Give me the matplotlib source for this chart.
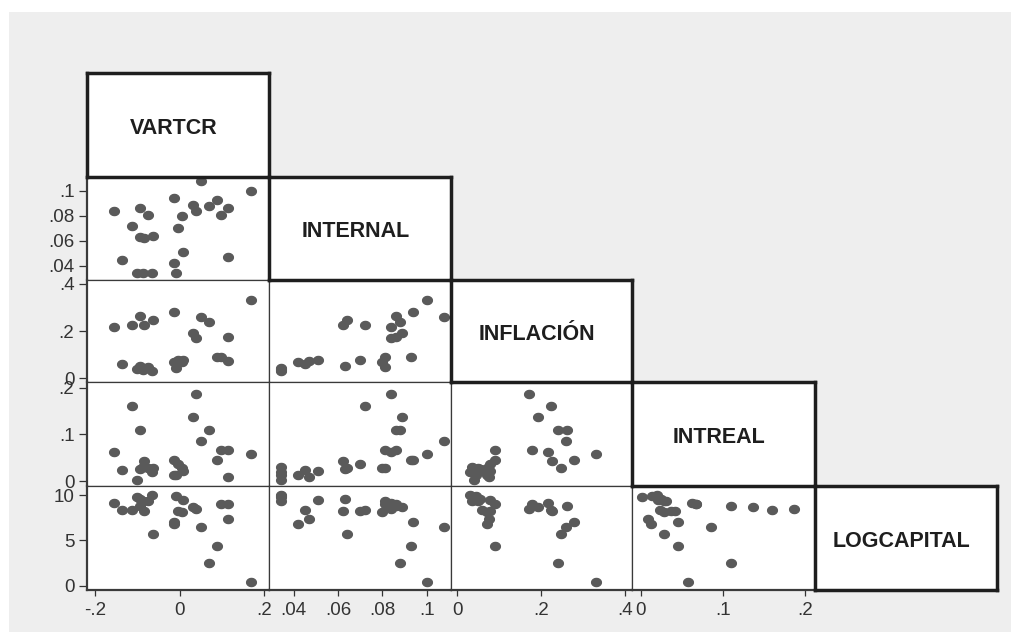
import numpy as np
import matplotlib.pyplot as plt
from matplotlib.path import Path
from matplotlib.patches import Rectangle

plt.rcParams['font.family'] = ['Liberation Sans', 'DejaVu Sans']

W, H = 1012, 638

names = ["VARTCR", "INTERNAL", "INFLACIÓN", "INTREAL", "LOGCAPITAL"]

vartcr = [-.156, -.137, -.114, -.095, -.076, -.086, -.095, -.064, -.102, -.088,
          -.066, -.009, -.014, .005, -.005, .007, -.014, .031, .038, .050,
          .069, .088, .097, .114, .114, .168]
internal = [.084, .045, .072, .086, .081, .062, .063, .064, .034, .034,
            .034, .034, .094, .080, .070, .051, .042, .089, .084, .108,
            .088, .093, .081, .086, .047, .100]
inflacion = [.217, .060, .224, .262, .050, .226, .054, .248, .040, .035,
             .030, .045, .279, .070, .078, .078, .070, .193, .170, .258,
             .240, .090, .090, .177, .075, .330]
intreal = [.063, .023, .160, .110, .028, .042, .025, .028, .002, .031,
           .020, .014, .045, .028, .037, .021, .012, .137, .187, .085,
           .110, .046, .067, .067, .009, .057]
logcapital = [9.1, 8.35, 8.4, 8.8, 9.3, 8.2, 9.6, 5.7, 9.8, 9.3,
              10.0, 9.9, 7.0, 8.1, 8.2, 9.5, 6.8, 8.7, 8.5, 6.5,
              2.5, 4.4, 9.0, 9.0, 7.4, 0.4]

data = [vartcr, internal, inflacion, intreal, logcapital]

tick_vals = [[-.2, 0, .2], [.04, .06, .08, .1], [0, .2, .4], [0, .1, .2], [0, 5, 10]]
tick_text = [["-.2", "0", ".2"], [".04", ".06", ".08", ".1"], ["0", ".2", ".4"],
             ["0", ".1", ".2"], ["0", "5", "10"]]
limits = [(-.220, .211), (.0288, .111), (-.015, .416), (-.0105, .212), (-.47, 11.0)]

col_edges = [87, 269, 451, 632, 815, 997]
row_edges = [73, 177, 280, 382, 486, 590]

dot_color = "#5a5a5a"
line_color = "#3a3a3a"


def box(x0, y0, x1, y1):
    return [x0 / W, 1 - y1 / H, (x1 - x0) / W, (y1 - y0) / H]


# squashed circle like the stata markers
t = np.linspace(0, 2 * np.pi, 40)
ellipse = Path(np.column_stack([1.2 * np.cos(t), np.sin(t)]), closed=True)

fig = plt.figure(figsize=(W / 100, H / 100), dpi=100)
fig.patch.set_facecolor("white")
fig.add_artist(Rectangle((9 / W, 1 - 632 / H), 1003 / W, 620 / H,
                         transform=fig.transFigure, facecolor="#eeeeee",
                         edgecolor="none", zorder=0))

for i in range(1, 5):
    for j in range(i):
        ax = fig.add_axes(box(col_edges[j], row_edges[i], col_edges[j + 1], row_edges[i + 1]))
        ax.set_facecolor("white")
        ax.plot(data[j], data[i], ls="none", marker=ellipse, ms=7,
                color=dot_color, mec=dot_color)
        ax.set_xlim(limits[j])
        ax.set_ylim(limits[i])
        for s in ax.spines.values():
            s.set_linewidth(0.9)
            s.set_color(line_color)
        if j == 0:
            ax.set_yticks(tick_vals[i])
            ax.set_yticklabels(tick_text[i])
            ax.spines["left"].set_linewidth(1.6)
        else:
            ax.set_yticks([])
        if i == 4:
            ax.set_xticks(tick_vals[j])
            ax.set_xticklabels(tick_text[j])
            ax.spines["bottom"].set_linewidth(1.6)
        else:
            ax.set_xticks([])
        ax.tick_params(axis="y", length=6, width=0.9, pad=3, labelsize=13.5,
                       colors="#333333")
        ax.tick_params(axis="x", length=4.5, width=0.9, pad=4, labelsize=13.5,
                       colors="#333333")

# diagonal boxes with the variable names
for k in range(5):
    ax = fig.add_axes(box(col_edges[k], row_edges[k], col_edges[k + 1], row_edges[k + 1]),
                      zorder=5)
    ax.set_facecolor("white")
    ax.set_xticks([])
    ax.set_yticks([])
    for s in ax.spines.values():
        s.set_linewidth(2.5)
        s.set_color("#1e1e1e")
    ax.text(0.475, 0.47, names[k], transform=ax.transAxes, ha="center", va="center",
            fontsize=15.5, fontweight="bold", color="#1e1e1e")

fig.savefig("out.png", dpi=100, facecolor=fig.get_facecolor())
